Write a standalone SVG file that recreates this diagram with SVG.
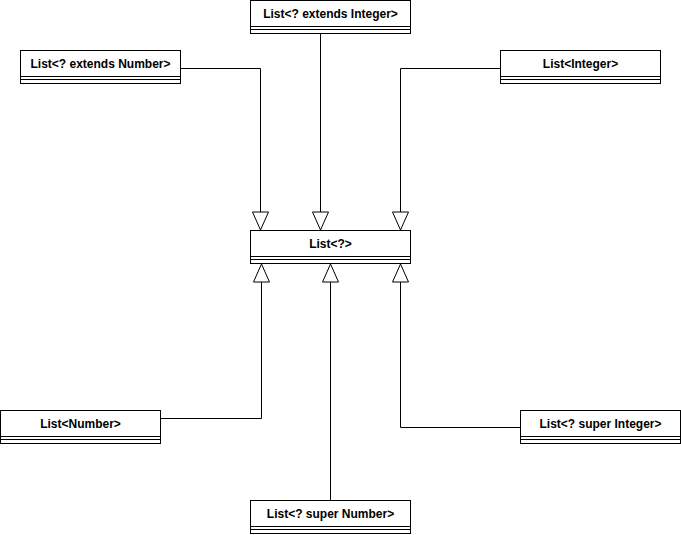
<svg xmlns="http://www.w3.org/2000/svg" width="681" height="535" viewBox="0 0 681 535">
<defs>
<style>
.box{fill:#fff;stroke:#000;stroke-width:1}
.ln{fill:none;stroke:#000;stroke-width:1}
.t{font-family:"Liberation Sans",Arial,sans-serif;font-size:12px;font-weight:bold;fill:#000;text-anchor:middle}
.arr{fill:#fff;stroke:#000;stroke-width:1}
</style>
</defs>
<rect width="681" height="535" fill="#fff"/>
<g id="connectors">
<polyline class="ln" points="180.5,68.5 260.5,68.5 260.5,212"/>
<polygon class="arr" points="252.5,212 268.5,212 260.5,230"/>
<polyline class="ln" points="320.5,34 320.5,212"/>
<polygon class="arr" points="312.5,212 328.5,212 320.5,230"/>
<polyline class="ln" points="500,68.5 400.5,68.5 400.5,212"/>
<polygon class="arr" points="392.5,212 408.5,212 400.5,230"/>
<polyline class="ln" points="160,418.5 261.5,418.5 261.5,282"/>
<polygon class="arr" points="253.5,282 269.5,282 261.5,264"/>
<polyline class="ln" points="330.5,500 330.5,282"/>
<polygon class="arr" points="322.5,282 338.5,282 330.5,264"/>
<polyline class="ln" points="520,427.5 400.5,427.5 400.5,282"/>
<polygon class="arr" points="392.5,282 408.5,282 400.5,264"/>
</g>
<g id="n_ext_integer">
<rect class="box" x="250.5" y="0.5" width="160" height="33"/>
<path class="ln" d="M250.5 26.5H410.5M250.5 29.5H410.5"/>
<text class="t" x="330.5" y="17.5">List&lt;? extends Integer&gt;</text>
</g>
<g id="n_ext_number">
<rect class="box" x="20.5" y="50.5" width="160" height="33"/>
<path class="ln" d="M20.5 76.5H180.5M20.5 79.5H180.5"/>
<text class="t" x="100.5" y="67.5">List&lt;? extends Number&gt;</text>
</g>
<g id="n_integer">
<rect class="box" x="500.5" y="50.5" width="160" height="33"/>
<path class="ln" d="M500.5 76.5H660.5M500.5 79.5H660.5"/>
<text class="t" x="580.5" y="67.5">List&lt;Integer&gt;</text>
</g>
<g id="n_wild">
<rect class="box" x="250.5" y="230.5" width="160" height="33"/>
<path class="ln" d="M250.5 256.5H410.5M250.5 259.5H410.5"/>
<text class="t" x="330.5" y="247.5">List&lt;?&gt;</text>
</g>
<g id="n_number">
<rect class="box" x="0.5" y="410.5" width="160" height="33"/>
<path class="ln" d="M0.5 436.5H160.5M0.5 439.5H160.5"/>
<text class="t" x="80.5" y="427.5">List&lt;Number&gt;</text>
</g>
<g id="n_super_integer">
<rect class="box" x="520.5" y="410.5" width="160" height="33"/>
<path class="ln" d="M520.5 436.5H680.5M520.5 439.5H680.5"/>
<text class="t" x="600.5" y="427.5">List&lt;? super Integer&gt;</text>
</g>
<g id="n_super_number">
<rect class="box" x="250.5" y="500.5" width="160" height="33"/>
<path class="ln" d="M250.5 526.5H410.5M250.5 529.5H410.5"/>
<text class="t" x="330.5" y="517.5">List&lt;? super Number&gt;</text>
</g>
</svg>
